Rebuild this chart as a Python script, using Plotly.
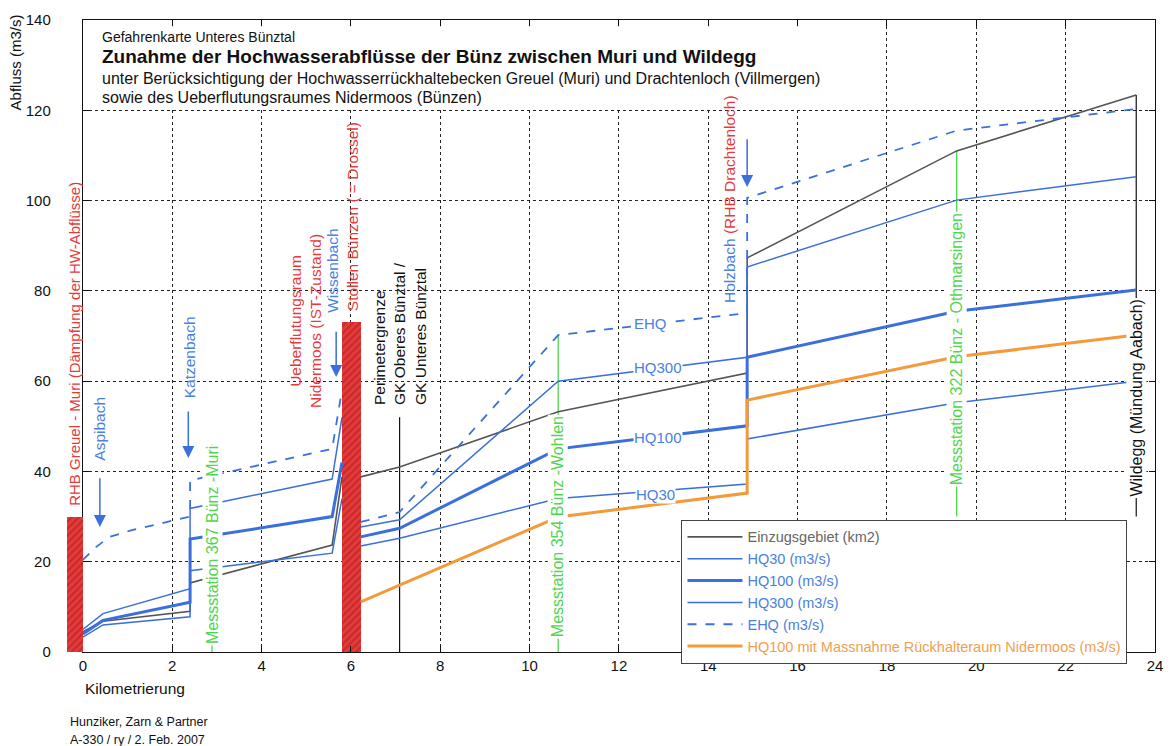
import plotly.graph_objects as go

FONT = "Liberation Sans, Arial, sans-serif"
BLUE = "#3a6fdc"
BLUE_TXT = "#4a80e2"
GRAY = "#555555"
ORANGE = "#f39a3a"
RED = "#e63a3a"
GREEN = "#4fd64f"

# ---------------- data ----------------
km_main = [0, 0.45, 2.4, 2.4, 5.58, 5.8, None, 6.22, 7.09, 10.64, 14.87, 14.87, 19.56, 23.58]
ezg_km2 = [4.5, 6.8, 9.0, 15.3, 23.7, 38.8, None, 38.8, 41.0, 53.2, 61.8, 87.3, 111.0, 123.4]
hq30 = [3.3, 6.0, 7.8, 18.0, 21.9, 34.0, None, 23.5, 25.2, 34.0, 37.2, 47.2, 55.2, 60.0]
hq100 = [4.0, 7.0, 11.0, 25.0, 30.0, 42.0, None, 25.5, 27.4, 45.0, 50.1, 65.3, 75.5, 80.2]
hq300 = [5.0, 8.5, 14.0, 31.8, 38.3, 52.0, None, 27.7, 29.3, 60.0, 65.3, 85.3, 100.1, 105.3]

km_ehq = [0, 0.3, 0.6, 1.1, 2.4, 2.4, 5.58, 5.8, None, 6.22, 7.09, 10.64, 14.87, 14.87, 19.56, 23.58]
ehq = [20.4, 23.3, 25.5, 27.0, 30.0, 38.0, 45.0, 58.0, None, 28.8, 31.0, 70.2, 75.1, 100.6, 115.5, 120.3]

km_massnahme = [6.22, 10.64, 14.87, 14.87, 19.56, 23.58]
hq100_massnahme = [11.1, 29.9, 35.2, 55.8, 65.4, 70.2]

# retention structures (hatched bars): km position, width, height
rhb_greuel_km = [-0.175]
rhb_greuel_width = [0.35]
rhb_greuel_height = [30]
stollen_km = [6.01]
stollen_width = [0.42]
stollen_height = [73]

# vertical marker lines
station_km = [2.89, 10.64, 19.56]
station_bottom = [0, 0, 30]
station_top = [46, 70.2, 111]
station_names = ["Messstation 367 Bünz -Muri", "Messstation 354 Bünz -Wohlen",
                 "Messstation 322 Bünz - Othmarsingen"]
station_label_y = [23.7, 27.7, 67.0]

perimeter_km = 7.09
perimeter_range = [0, 52]
wildegg_km = 23.58
wildegg_range = [30, 123.4]

# tributaries (arrows): km, arrow tail, arrow head
trib_km = [0.38, 2.36, 5.67, 14.87]
trib_tail = [38.8, 53.6, 71.3, 113.9]
trib_head = [27.7, 43.0, 60.9, 103.0]

x_ticks = list(range(0, 25, 2))
y_ticks = list(range(0, 141, 20))

# layout geometry (pixels)
ML, MR = 67, 10
PW = 1173 - ML - MR
X0 = 16 / PW  # split between left strip (km < 0) and main plot


def px(p):
    return (p - ML) / PW


fig = go.Figure()

hatch = dict(shape="/", fgcolor="#9a1818", size=5, solidity=0.35, fillmode="overlay")

fig.add_trace(go.Bar(x=rhb_greuel_km, y=rhb_greuel_height, width=rhb_greuel_width, showlegend=False,
                     marker=dict(color=RED, line=dict(width=0), pattern=hatch),
                     xaxis="x2", yaxis="y2", hoverinfo="skip"))
fig.add_trace(go.Bar(x=stollen_km, y=stollen_height, width=stollen_width, showlegend=False,
                     marker=dict(color=RED, line=dict(width=0), pattern=hatch), hoverinfo="skip"))

for k, b, t in zip(station_km, station_bottom, station_top):
    fig.add_trace(go.Scatter(x=[k, k], y=[b, t], mode="lines", showlegend=False,
                             line=dict(color=GREEN, width=1.3), hoverinfo="skip"))
fig.add_trace(go.Scatter(x=[perimeter_km, perimeter_km], y=perimeter_range, mode="lines",
                         showlegend=False, line=dict(color="#111", width=1.2)))
fig.add_trace(go.Scatter(x=[wildegg_km, wildegg_km], y=wildegg_range, mode="lines",
                         showlegend=False, line=dict(color="#111", width=1.2)))


def lg(txt, col):
    return '<span style="color:%s">%s</span>' % (col, txt)


fig.add_trace(go.Scatter(x=km_main, y=ezg_km2, mode="lines", name=lg("Einzugsgebiet (km2)", "#666"),
                         line=dict(color=GRAY, width=1.6)))
fig.add_trace(go.Scatter(x=km_main, y=hq30, mode="lines", name=lg("HQ30 (m3/s)", BLUE_TXT),
                         line=dict(color=BLUE, width=1.5)))
fig.add_trace(go.Scatter(x=km_main, y=hq100, mode="lines", name=lg("HQ100 (m3/s)", BLUE_TXT),
                         line=dict(color=BLUE, width=3)))
fig.add_trace(go.Scatter(x=km_main, y=hq300, mode="lines", name=lg("HQ300 (m3/s)", BLUE_TXT),
                         line=dict(color=BLUE, width=1.5)))
fig.add_trace(go.Scatter(x=km_ehq, y=ehq, mode="lines", name=lg("EHQ (m3/s)", BLUE_TXT),
                         line=dict(color=BLUE, width=1.8, dash="dash")))
fig.add_trace(go.Scatter(x=km_massnahme, y=hq100_massnahme, mode="lines",
                         name=lg("HQ100 mit Massnahme Rückhalteraum Nidermoos (m3/s)", "#f0a050"),
                         line=dict(color=ORANGE, width=3)))

ann = []


def vtext(x, y, text, color, yanchor="middle", size=15.5, bg=None, align="center", xref="x"):
    d = dict(x=x, y=y, xref=xref, yref="y", text=text, showarrow=False, textangle=-90,
             font=dict(family=FONT, size=size, color=color), xanchor="center",
             yanchor=yanchor, align=align)
    if bg:
        d.update(bgcolor=bg, borderpad=1)
    ann.append(d)


vtext(-0.18, 31.9, "RHB Greuel - Muri (Dämpfung der HW-Abflüsse)", RED, "bottom", size=15, xref="x2")
vtext(0.38, 41.9, "Aspibach", BLUE_TXT, "bottom")
vtext(2.38, 55.8, "Katzenbach", BLUE_TXT, "bottom")
vtext(4.97, 53.6, "Ueberflutungsraum<br>Nidermoos (IST-Zustand)", RED, "bottom")
vtext(5.6, 74.7, "Wissenbach", BLUE_TXT, "bottom")
vtext(6.04, 75.1, "Stollen Bünzen ( = Drossel)", RED, "bottom")
vtext(perimeter_km, 54.3, "Perimetergrenze<br>GK Oberes Bünztal /<br>GK Unteres Bünztal", "#111",
      "bottom", align="left")
vtext(14.49, 76.9, '<span style="color:%s">Holzbach </span><span style="color:%s">(RHB Drachtenloch)</span>'
      % (BLUE_TXT, RED), BLUE_TXT, "bottom")
for k, nm, ly in zip(station_km, station_names, station_label_y):
    vtext(k, ly, nm, GREEN, "middle", size=16, bg="white")
vtext(wildegg_km, 56.2, "Wildegg (Mündung Aabach)", "#111", "middle", size=16, bg="white")

for k, t, h in zip(trib_km, trib_tail, trib_head):
    ann.append(dict(x=k, y=h, ax=k, ay=t, xref="x", yref="y", axref="x", ayref="y",
                    text="", showarrow=True, arrowhead=2, arrowsize=1.6, arrowwidth=1.5,
                    arrowcolor=BLUE))

for x, y, t in [(12.7, 72.7, "EHQ"), (12.87, 63.1, "HQ300"), (12.87, 47.6, "HQ100"), (12.82, 35.0, "HQ30")]:
    ann.append(dict(x=x, y=y, xref="x", yref="y", text=t, showarrow=False, bgcolor="white",
                    borderpad=0, font=dict(family=FONT, size=15, color=BLUE_TXT)))


def ptext(x, y, text, size, xanchor="left", angle=0, color="#111"):
    ann.append(dict(x=x, y=y, xref="paper", yref="paper", text=text, showarrow=False,
                    xanchor=xanchor, yanchor="middle", textangle=angle,
                    font=dict(family=FONT, size=size, color=color)))


ptext(px(100), 0.973, "Gefahrenkarte Unteres Bünztal", 14)
ptext(px(100), 0.9415, "<b>Zunahme der Hochwasserabflüsse der Bünz zwischen Muri und Wildegg</b>", 19)
ptext(px(100), 0.908, "unter Berücksichtigung der Hochwasserrückhaltebecken Greuel (Muri) und Drachtenloch (Villmergen)", 16)
ptext(px(100), 0.878, "sowie des Ueberflutungsraumes Nidermoos (Bünzen)", 16)
ptext(px(15), 0.9335, "Abfluss (m3/s)", 15, "center", -90)
ptext(px(83), -0.057, "Kilometrierung", 15.5)
ptext(px(68), -0.1108, "Hunziker, Zarn &amp; Partner", 12.5)
ptext(px(68), -0.139, "A-330 / ry / 2. Feb. 2007", 12.5)

# white background behind the title block
shapes = [dict(type="rect", xref="x", yref="y", x0=0.03, x1=16.5, y0=120.6, y1=138.6,
               fillcolor="white", line=dict(width=0), layer="above")]

axis_common = dict(showgrid=True, gridcolor="#222", griddash="dot", gridwidth=1.2,
                   showline=True, linecolor="#111", linewidth=1.2, mirror="ticks",
                   ticks="inside", ticklen=6, tickcolor="#111", zeroline=False,
                   tickfont=dict(family=FONT, size=15, color="#111"))

fig.update_layout(
    width=1173, height=746, autosize=False,
    margin=dict(l=ML, r=MR, t=20, b=94),
    paper_bgcolor="white", plot_bgcolor="white",
    font=dict(family=FONT, size=14, color="#111"),
    xaxis=dict(domain=[X0, 1], range=[0, 24], tickvals=x_ticks, anchor="y", **axis_common),
    yaxis=dict(range=[0, 140], tickvals=y_ticks, ticklabelstandoff=28, anchor="x", **axis_common),
    xaxis2=dict(domain=[0, X0], range=[-16 / 45, 0], visible=False, anchor="y2", showgrid=False),
    yaxis2=dict(range=[0, 140], visible=False, anchor="x2", showgrid=False, matches="y"),
    legend=dict(x=px(686), y=0.209, xanchor="left", yanchor="top", bgcolor="white",
                bordercolor="#444", borderwidth=1, font=dict(family=FONT, size=14.5),
                tracegroupgap=0, itemwidth=55),
    annotations=ann,
    shapes=shapes,
    bargap=0,
    showlegend=True,
)

fig.write_html("out.html", config={"displayModeBar": False},
               post_script="document.body.style.margin='0';")
